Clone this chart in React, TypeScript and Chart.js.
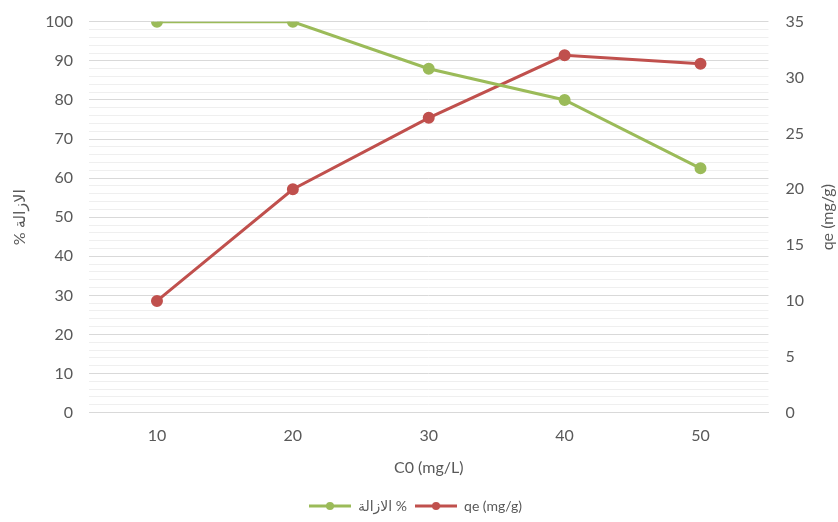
import React, { useEffect, useRef } from 'react';
import { Chart, registerables } from 'chart.js';
Chart.register(...registerables);

const categories = ['10', '20', '30', '40', '50'];
const removalPct = [100, 100, 88, 80, 62.5];
const qeValues = [10, 20, 26.4, 32, 31.25];
const removalLabel = 'الازالة %';
const leftTitle = '% الازالة';
const qeLabel = 'qe (mg/g)';
const xTitle = 'C0 (mg/L)';

const GREEN = '#9BBB59';
const RED = '#C0504D';
const TEXT = '#595959';
const FONT = 'Lato, "DejaVu Sans", sans-serif';
const FS = 16;

function makeIcon(color: string) {
  const c = document.createElement('canvas');
  c.width = 42;
  c.height = 10;
  const ctx = c.getContext('2d')!;
  ctx.strokeStyle = color;
  ctx.lineWidth = 3;
  ctx.beginPath();
  ctx.moveTo(0, 5);
  ctx.lineTo(42, 5);
  ctx.stroke();
  ctx.fillStyle = color;
  ctx.beginPath();
  ctx.arc(21, 5, 4, 0, Math.PI * 2);
  ctx.fill();
  return c;
}

const rightTitlePlugin = {
  id: 'rightTitle',
  afterDraw(chart: any) {
    const { ctx, chartArea } = chart;
    ctx.save();
    ctx.translate(chart.width - 10, (chartArea.top + chartArea.bottom) / 2);
    ctx.rotate(-Math.PI / 2);
    ctx.fillStyle = TEXT;
    ctx.font = `${FS}px ${FONT}`;
    ctx.textAlign = 'center';
    ctx.textBaseline = 'middle';
    ctx.fillText(qeLabel, 0, 0);
    ctx.restore();
  },
};

export default function App() {
  const ref = useRef<HTMLCanvasElement>(null);
  useEffect(() => {
    document.body.style.margin = '0';
    const icons = [makeIcon(GREEN), makeIcon(RED)];
    const chart = new Chart(ref.current!, {
      type: 'line',
      plugins: [rightTitlePlugin],
      data: {
        labels: categories,
        datasets: [
          {
            label: removalLabel,
            data: removalPct,
            borderColor: GREEN,
            backgroundColor: GREEN,
            borderWidth: 3,
            pointRadius: 4.5,
            pointBackgroundColor: GREEN,
            pointBorderColor: GREEN,
            yAxisID: 'y',
            tension: 0,
          },
          {
            label: qeLabel,
            data: qeValues,
            borderColor: RED,
            backgroundColor: RED,
            borderWidth: 3,
            pointRadius: 4.5,
            pointBackgroundColor: RED,
            pointBorderColor: RED,
            yAxisID: 'y1',
            tension: 0,
          },
        ],
      },
      options: {
        animation: false,
        responsive: false,
        maintainAspectRatio: false,
        layout: { padding: { top: 0, left: 10, right: 17, bottom: -1 } },
        plugins: {
          tooltip: { enabled: false },
          legend: {
            position: 'bottom',
            labels: {
              usePointStyle: true,
              pointStyleWidth: 42,
              padding: 8,
              color: TEXT,
              font: { family: FONT, size: 14 },
              generateLabels: (ch: any) => {
                const items = Chart.defaults.plugins.legend.labels.generateLabels(ch);
                return items.map((it: any, i: number) => ({ ...it, pointStyle: icons[i] }));
              },
            },
          },
        },
        scales: {
          x: {
            type: 'category',
            offset: true,
            grid: { display: false, drawTicks: false },
            border: { display: true, color: '#d9d9d9' },
            ticks: { color: TEXT, font: { family: FONT, size: FS }, padding: 14 },
            title: { display: true, text: xTitle, color: TEXT, font: { family: FONT, size: FS }, padding: { top: -2, bottom: 14 } },
          },
          y: {
            position: 'left',
            min: 0,
            max: 100,
            grid: {
              drawTicks: false,
              color: (c: any) => (c.tick && c.tick.value % 10 === 0 ? '#d9d9d9' : '#efefef'),
              lineWidth: 1,
            },
            border: { display: false },
            ticks: {
              stepSize: 2,
              autoSkip: false,
              color: TEXT,
              font: { family: FONT, size: FS, lineHeight: 0.6 },
              padding: 16,
              callback: (v: any) => (Number(v) % 10 === 0 ? String(v) : ''),
            },
            title: { display: true, text: leftTitle, color: TEXT, font: { family: FONT, size: FS }, padding: { top: 0, bottom: 0 } },
          },
          y1: {
            position: 'right',
            min: 0,
            max: 35,
            grid: { drawOnChartArea: false, drawTicks: false },
            border: { display: false },
            ticks: { stepSize: 5, color: TEXT, font: { family: FONT, size: FS, lineHeight: 0.6 }, padding: 17 },
          },
        },
      },
    });
    return () => chart.destroy();
  }, []);
  return (
    <div style={{ position: 'absolute', left: 0, top: 0, width: 838, height: 522 }}>
      <canvas ref={ref} width={838} height={522} style={{ width: 838, height: 522 }} />
    </div>
  );
}
